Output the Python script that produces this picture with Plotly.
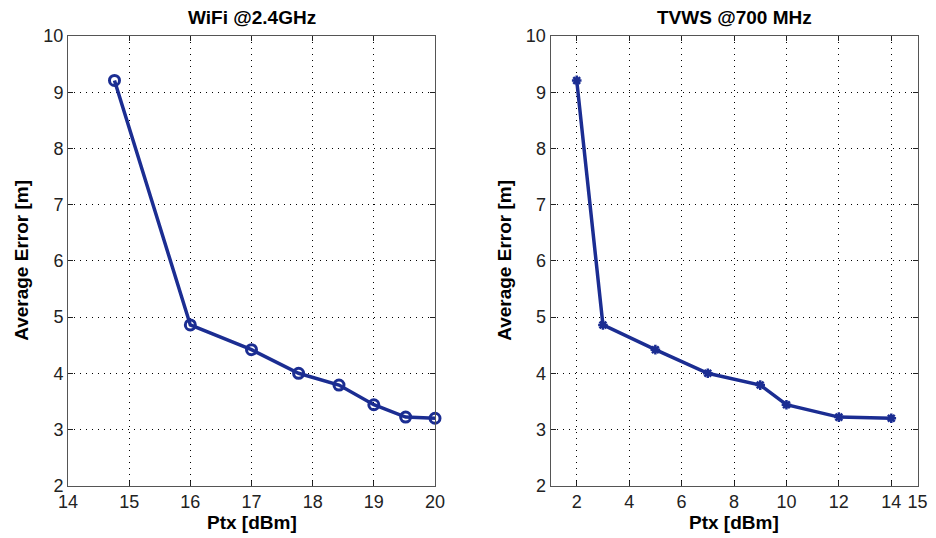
import plotly.graph_objects as go

W, H = 936, 538

wifi_ptx = [14.76, 16, 17, 17.77, 18.43, 19.0, 19.52, 20]
wifi_err = [9.21, 4.86, 4.42, 4.0, 3.79, 3.44, 3.22, 3.2]

tvws_ptx = [2, 3, 5, 7, 9, 10, 12, 14]
tvws_err = [9.21, 4.86, 4.42, 4.0, 3.79, 3.44, 3.22, 3.2]

titles = ["WiFi @2.4GHz", "TVWS @700 MHz"]
xlabel = "Ptx [dBm]"
ylabel = "Average Error [m]"
left_xticks = [14, 15, 16, 17, 18, 19, 20]
right_xticks = [2, 4, 6, 8, 10, 12, 14, 15]
yticks = [2, 3, 4, 5, 6, 7, 8, 9, 10]

LINE = "#1b2d92"
FONT = "Liberation Sans, Arial, sans-serif"

fig = go.Figure()
fig.add_trace(go.Scatter(
    x=wifi_ptx, y=wifi_err, mode="lines+markers",
    line=dict(color=LINE, width=3.5),
    marker=dict(symbol="circle-open", size=10, color=LINE, line=dict(width=3, color=LINE)),
    xaxis="x", yaxis="y", showlegend=False, cliponaxis=False))
fig.add_trace(go.Scatter(
    x=tvws_ptx, y=tvws_err, mode="lines+markers",
    line=dict(color=LINE, width=3.5),
    marker=dict(symbol="asterisk-open", size=8, color=LINE, line=dict(width=2.5, color=LINE)),
    xaxis="x2", yaxis="y2", showlegend=False, cliponaxis=False))

ydom = [1 - 485.7 / H, 1 - 36 / H]
xdom1 = [68 / W, 435 / W]
xdom2 = [550.5 / W, 917.5 / W]

common = dict(
    showline=True, linecolor="#555", linewidth=1, mirror="ticks",
    ticks="inside", ticklen=5, tickcolor="#222", tickwidth=1,
    showgrid=True, gridcolor="#000", gridwidth=1, griddash="1px,5px",
    zeroline=False, automargin=False,
    tickfont=dict(family=FONT, size=18, color="#222"),
)

fig.update_layout(
    width=W, height=H,
    margin=dict(l=0, r=0, t=0, b=0, autoexpand=False),
    plot_bgcolor="white", paper_bgcolor="white",
    xaxis=dict(domain=xdom1, range=[14, 20], tickvals=left_xticks, anchor="y", **common),
    yaxis=dict(domain=ydom, range=[2, 10], tickvals=yticks, anchor="x", **common),
    xaxis2=dict(domain=xdom2, range=[1, 15], tickvals=right_xticks, anchor="y2", **common),
    yaxis2=dict(domain=ydom, range=[2, 10], tickvals=yticks, anchor="x2", **common),
)

ann = []
for i, (x0, x1) in enumerate([xdom1, xdom2]):
    cx = (x0 + x1) / 2
    ann.append(dict(text="<b>%s</b>" % titles[i], x=cx, y=1 - 17 / H, xref="paper", yref="paper",
                    showarrow=False, font=dict(family=FONT, size=19, color="#000"),
                    xanchor="center", yanchor="middle"))
    ann.append(dict(text="<b>%s</b>" % xlabel, x=cx, y=1 - 522 / H, xref="paper", yref="paper",
                    showarrow=False, font=dict(family=FONT, size=19, color="#000"),
                    xanchor="center", yanchor="middle"))
    yx = (22 if i == 0 else 505) / W
    ann.append(dict(text="<b>%s</b>" % ylabel, x=yx, y=(ydom[0] + ydom[1]) / 2, xref="paper", yref="paper",
                    showarrow=False, textangle=-90, font=dict(family=FONT, size=19, color="#000"),
                    xanchor="center", yanchor="middle"))
fig.update_layout(annotations=ann)

fig.write_html("out.html")
